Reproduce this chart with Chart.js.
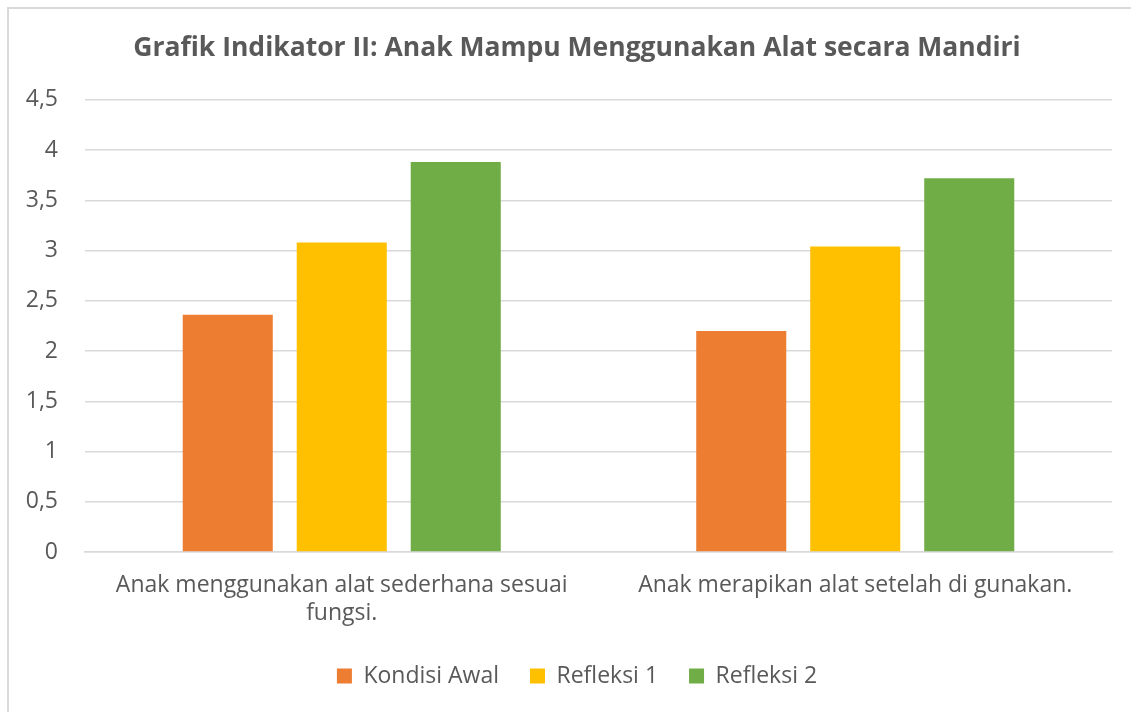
<!DOCTYPE html>
<html>
<head>
<meta charset="utf-8">
<script src="https://cdn.jsdelivr.net/npm/chart.js@4"></script>
<style>
  body { margin: 0; background: #fff; overflow: hidden; }
  #frame {
    position: absolute; left: 7px; top: 7px;
    width: 1140px; height: 720px;
    border: 2px solid #d9d9d9;
  }
  #wrap { position: absolute; left: 0; top: 0; width: 1122px; height: 703px; }
</style>
</head>
<body>
<div id="frame"><div id="wrap"><canvas id="indikatorChart"></canvas></div></div>
<script>
// data
var categories = [
  ["Anak menggunakan alat sederhana sesuai", "fungsi."],
  "Anak merapikan alat setelah di gunakan."
];
var seriesNames = ["Kondisi Awal", "Refleksi 1", "Refleksi 2"];
var kondisiAwal = [2.36, 2.2];
var refleksi1 = [3.08, 3.04];
var refleksi2 = [3.88, 3.72];
var seriesColors = ["#ED7D31", "#FFC000", "#70AD47"];

var textColor = "#595959";
var gridColor = "#d9d9d9";
var fontFamily = "'Open Sans', sans-serif";

Chart.defaults.font.family = fontFamily;
Chart.defaults.color = textColor;

let ctx = document.getElementById("indikatorChart").getContext("2d");

let values = [kondisiAwal, refleksi1, refleksi2];
let datasets = seriesNames.map(function(name, i) {
  return {
    label: name,
    data: values[i],
    backgroundColor: seriesColors[i],
    borderWidth: 0,
    categoryPercentage: 0.666,
    barPercentage: 0.79
  };
});

let chart = new Chart(ctx, {
  type: "bar",
  data: { labels: categories, datasets: datasets },
  options: {
    responsive: true,
    maintainAspectRatio: false,
    animation: false,
    // left padding shifts title/legend centre like the original
    layout: { padding: { top: 12, right: 19, bottom: 14.5, left: 33 } },
    plugins: {
      title: {
        display: true,
        text: "Grafik Indikator II: Anak Mampu Menggunakan Alat secara Mandiri",
        color: textColor,
        font: { size: 26.5, weight: "bold" },
        padding: { top: 12, bottom: 35 }
      },
      legend: {
        position: "bottom",
        labels: {
          boxWidth: 15,
          boxHeight: 15,
          padding: 31,
          color: textColor,
          font: { size: 23 }
        }
      },
      tooltip: { enabled: false }
    },
    scales: {
      x: {
        grid: { display: false },
        border: { color: gridColor, width: 1.5 },
        afterFit: function(scale) { scale.height = 81.5; },
        ticks: {
          color: textColor,
          font: { size: 23, lineHeight: 1.2 },
          maxRotation: 0,
          autoSkip: false,
          padding: 12
        }
      },
      y: {
        min: 0,
        max: 4.5,
        border: { display: false },
        grid: { color: gridColor, lineWidth: 1.5, drawTicks: false },
        afterFit: function(scale) {
          scale.width = 43;
          // labels reach into the left padding, don't clip them
          scale._computeLabelArea = function() { return undefined; };
        },
        ticks: {
          stepSize: 0.5,
          padding: 27,
          color: textColor,
          font: { size: 23 },
          callback: function(v) { return String(v).replace(".", ","); }
        }
      }
    }
  }
});
</script>
</body>
</html>
